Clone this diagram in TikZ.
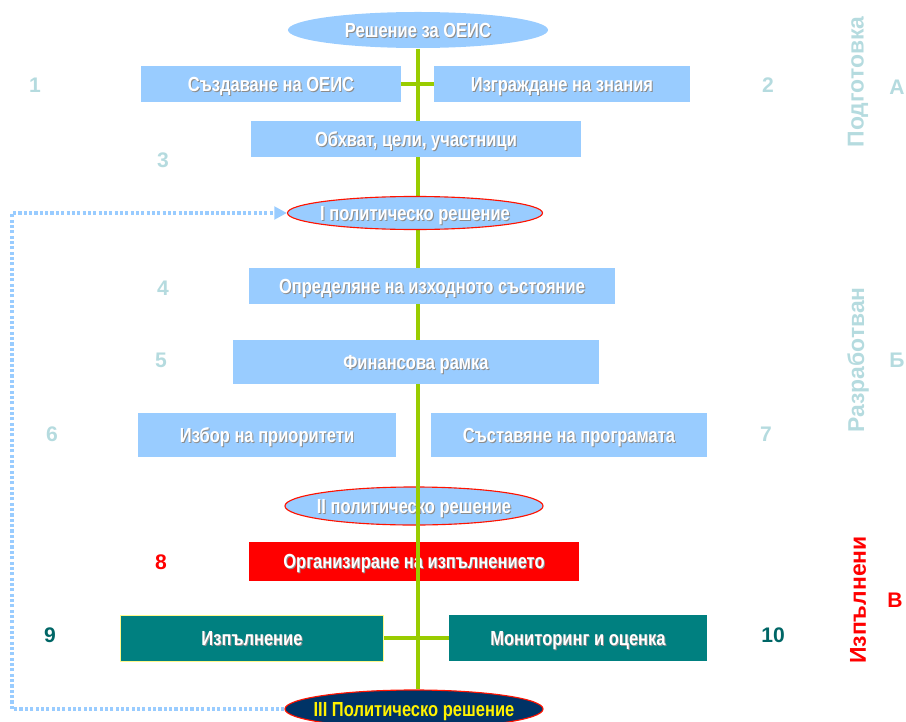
\documentclass[tikz,border=0pt]{standalone}
\usepackage{fontspec}
\setmainfont{Liberation Sans}[FakeStretch=0.81]
\newfontfamily\sidefont{Liberation Sans}
\usepackage{xcolor}
\usetikzlibrary{arrows.meta,shapes,positioning,backgrounds}

\definecolor{paleblue}{RGB}{153,204,255}
\definecolor{stemgreen}{RGB}{153,204,0}
\definecolor{darknavy}{RGB}{0,51,102}
\definecolor{boxteal}{RGB}{0,128,128}
\definecolor{palenum}{RGB}{181,219,223}
\definecolor{darknum}{RGB}{0,102,102}

% white text with a soft grey shadow
\newcommand{\txtshadow}[1]{\rlap{\raisebox{-0.7pt}{\hspace{0.7pt}\textcolor{black!45}{#1}}}#1}
% text that does not widen its ellipse
\newcommand{\ovaltext}[1]{\makebox[0pt]{#1}}

\begin{document}
\begin{tikzpicture}[x=0.025cm,y=-0.025cm,
  label text/.style={text=white,text height=10pt,text depth=0pt,
    font=\fontsize{14.5}{16}\selectfont\bfseries},
  stepbox/.style={rectangle,fill=paleblue,inner sep=0pt,label text},
  decision/.style={ellipse,fill=paleblue,draw=red!85!orange,thick,inner sep=0pt,label text},
  runbox/.style={rectangle,fill=boxteal,inner sep=0pt,label text},
  stem/.style={stemgreen,line width=2.2pt},
  feedback/.style={paleblue,line width=2.2pt,dash pattern=on 2.2pt off 1.6pt,
    -{Triangle[length=9pt,width=9pt]}},
  numlabel/.style={text=palenum,font=\sidefont\fontsize{15}{17}\selectfont\bfseries},
  phase/.style={rotate=90,font=\sidefont\fontsize{16.3}{18}\selectfont\bfseries}]
\useasboundingbox (0,0) rectangle (906,722);
\clip (0,0) rectangle (906,722);

% Decisions and steps
\node[decision,draw=none,minimum width=6.5cm,minimum height=0.9cm] (start) at (418,30) {\ovaltext{\txtshadow{Решение за ОЕИС}}};
\node[stepbox,minimum width=6.5cm,minimum height=0.9cm] (create) at (271,84) {\txtshadow{Създаване на ОЕИС}};
\node[stepbox,minimum width=6.4cm,minimum height=0.9cm] (know) at (562,84) {\txtshadow{Изграждане на знания}};
\node[stepbox,minimum width=8.25cm,minimum height=0.9cm] (scope) at (416,139) {\txtshadow{Обхват, цели, участници}};
\node[decision,minimum width=6.375cm,minimum height=0.825cm] (polI) at (415,213) {\ovaltext{\txtshadow{I политическо решение}}};
\node[stepbox,minimum width=9.15cm,minimum height=0.9cm] (base) at (432,286) {\txtshadow{Определяне на изходното състояние}};
\node[stepbox,minimum width=9.15cm,minimum height=1.1cm] (fin) at (416,362) {\txtshadow{Финансова рамка}};
\node[stepbox,minimum width=6.425cm,minimum height=1.1cm] (prio) at (267,435) {\txtshadow{Избор на приоритети}};
\node[stepbox,minimum width=6.875cm,minimum height=1.1cm] (prog) at (569,435) {\txtshadow{Съставяне на програмата}};
\node[decision,minimum width=6.45cm,minimum height=0.95cm] (polII) at (414,506) {\ovaltext{\txtshadow{II политическо решение}}};
\node[stepbox,fill=red,minimum width=8.25cm,minimum height=0.975cm] (org) at (414,561) {\txtshadow{Организиране на изпълнението}};
\node[runbox,draw=yellow!45,thin,minimum width=6.575cm,minimum height=1.15cm] (exec) at (252,638) {\txtshadow{Изпълнение}};
\node[runbox,minimum width=6.425cm,minimum height=1.15cm] (monit) at (578,638) {\txtshadow{Мониторинг и оценка}};
\node[decision,fill=darknavy,text=yellow,minimum width=6.45cm,minimum height=0.95cm] (polIII) at (414,709) {\ovaltext{III Политическо решение}};

% Green stem behind the boxes
\begin{scope}[on background layer]
\draw[stem] (start.south) -- (start.south |- polIII.north);
\draw[stem] (create.east) -- (know.west);
\draw[stem] (exec.east) -- (exec.east -| monit.west);
\end{scope}
% ...but over the second decision and the red box
\draw[stem] (start.south |- polII.north) -- (start.south |- org.south);

% Feedback loop
\coordinate (loop) at (12,0);
\draw[feedback] (polIII.west) -- (polIII.west -| loop) |- (polI.west);

% Step numbers
\node[numlabel] (n1) at (35,85) {1};
\node[numlabel] (n2) at (768,85) {2};
\node[numlabel] (n3) at (163,160) {3};
\node[numlabel] (n4) at (163,288) {4};
\node[numlabel] (n5) at (161,360) {5};
\node[numlabel] (n6) at (52,434) {6};
\node[numlabel] (n7) at (766,434) {7};
\node[numlabel,text=red] (n8) at (161,562) {8};
\node[numlabel,text=darknum] (n9) at (50,635) {9};
\node[numlabel,text=darknum] (n10) at (773,635) {10};

% Phases
\node[phase,text=palenum] (phA) at (858,82) {Подготовка};
\node[numlabel] (lA) at (897,87) {А};
\node[phase,text=palenum] (phB) at (858,360) {Разработван};
\node[numlabel] (lB) at (897,360) {Б};
\node[phase,text=red] (phC) at (858,600) {Изпълнени};
\node[numlabel,text=red] (lC) at (895,600) {В};
\end{tikzpicture}
\end{document}
